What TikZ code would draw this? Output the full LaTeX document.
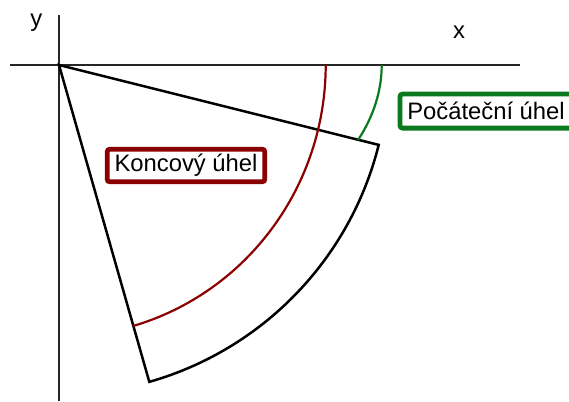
\documentclass[tikz,border=0pt]{standalone}
\usepackage{fontspec}
\setmainfont{Liberation Sans}
\usepackage{xcolor}
\usepackage{tikz}
\usetikzlibrary{positioning}
\definecolor{endred}{HTML}{8B0000}
\definecolor{startgreen}{HTML}{0B7A1F}

\begin{document}
\begin{tikzpicture}[x=1pt, y=-1pt, font=\fontsize{23.8}{28}\selectfont,
      axis/.style={draw=black!85, line width=1.3pt},
      sector/.style={draw=black, line width=2.5pt, line join=miter},
      endarc/.style={draw=endred, line width=2.2pt},
      startarc/.style={draw=startgreen, line width=2.2pt},
      lbl/.style={inner sep=0pt},
      anglebox/.style={draw, line width=4.8pt, rounded corners=2.5pt, fill=white,
                       inner sep=0pt, align=center}]
    \useasboundingbox (0,0) rectangle (569,401);
    \coordinate (O)  at (59,65);
    \coordinate (xl) at (10,65);   \coordinate (xr) at (520,65);
    \coordinate (yt) at (59,15);   \coordinate (yb) at (59,401);
    \coordinate (A)  at (378.7,144.9);
    \coordinate (R0) at (325.7,65);
    \coordinate (G0) at (381.7,65);
    \draw[axis] (xl) -- (xr);
    \draw[axis] (yt) -- (yb);
    \node[lbl] (xlab) at (459,32.5) {x};
    \node[lbl] (ylab) at (36.3,22.8) {y};
    \draw[sector] (O) -- (A) arc[start angle=14.04, end angle=74.1, radius=329.5] -- cycle;
    \draw[endarc] (R0) arc[start angle=0, end angle=73.9, x radius=266.7, y radius=271.7];
    \draw[startarc] (G0) arc[start angle=0, end angle=22.1, x radius=322.7, y radius=199.5];
    \node[anglebox, draw=endred, minimum width=157.5pt, minimum height=32.5pt]
      (konec) at (186,165.5) {Koncový úhel};
    \node[anglebox, draw=startgreen, minimum width=172pt, minimum height=34pt]
      (pocatek) at (486,111.1) {Počáteční úhel};
  \end{tikzpicture}
\end{document}
